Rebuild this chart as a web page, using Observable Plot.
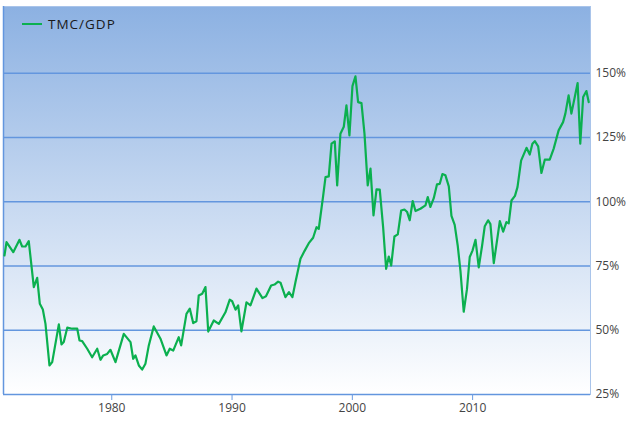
<!DOCTYPE html>
<html><head><meta charset="utf-8">
<script src="https://cdn.jsdelivr.net/npm/d3@7"></script>
<script src="https://cdn.jsdelivr.net/npm/@observablehq/plot@0.6"></script>
<style>
body{margin:0;background:#fff;font-family:"Open Sans",sans-serif}
#wrap{position:relative;width:640px;height:432px}
#wrap svg{position:absolute;left:0;top:0}
#legend{position:absolute;left:22px;top:15px;display:flex;align-items:center;font-size:13.5px;letter-spacing:1px;color:#1a1a1a;z-index:2;font-family:"Open Sans",sans-serif}
#legend .sw{display:inline-block;width:20px;height:2px;background:#0bb04f;margin-right:6px}
</style></head><body>
<div id="wrap"></div>
<script>
const seriesName = "TMC/GDP";
const years = [1971.08,1971.25,1971.81,1972.33,1972.55,1972.83,1973.10,1973.52,1973.80,1974.02,1974.27,1974.49,1974.82,1975.05,1975.60,1975.82,1976.01,1976.30,1976.71,1977.13,1977.32,1977.54,1977.96,1978.37,1978.79,1979.06,1979.29,1979.62,1979.89,1980.31,1981.00,1981.56,1981.78,1981.97,1982.25,1982.53,1982.80,1983.08,1983.49,1984.05,1984.55,1984.82,1985.11,1985.57,1985.77,1986.21,1986.49,1986.77,1987.04,1987.23,1987.52,1987.79,1988.02,1988.48,1988.90,1989.45,1989.81,1990.01,1990.29,1990.51,1990.78,1991.20,1991.53,1992.03,1992.53,1992.82,1993.25,1993.53,1993.83,1994.03,1994.44,1994.73,1995.02,1995.27,1995.69,1996.02,1996.38,1996.74,1997.02,1997.21,1997.58,1997.77,1998.04,1998.27,1998.54,1998.74,1999.01,1999.29,1999.51,1999.76,2000.01,2000.26,2000.48,2000.76,2001.01,2001.28,2001.51,2001.76,2002.01,2002.28,2002.56,2002.81,2003.03,2003.23,2003.50,2003.78,2004.06,2004.33,2004.56,2004.77,2005.02,2005.25,2005.66,2006.08,2006.27,2006.49,2006.77,2007.04,2007.27,2007.49,2007.74,2008.02,2008.24,2008.51,2008.76,2008.99,2009.26,2009.53,2009.76,2009.99,2010.24,2010.51,2010.79,2011.01,2011.29,2011.48,2011.76,2012.26,2012.54,2012.81,2013.00,2013.23,2013.52,2013.73,2014.03,2014.48,2014.75,2014.97,2015.17,2015.45,2015.72,2016.00,2016.41,2016.74,2017.15,2017.52,2017.71,2017.98,2018.21,2018.73,2018.95,2019.19,2019.46,2019.65];
const values = [79.1,84.3,80.4,85.2,82.6,82.6,84.7,66.8,70.4,60.3,58.1,52.5,36.3,37.6,52.3,44.5,45.4,51,50.6,50.6,46,45.8,42.8,39.5,42.8,38.5,40.2,40.8,42.4,37.6,48.6,45.4,38.9,40.2,36.3,34.7,37,44.1,51.5,46.7,40.2,42.8,42.1,47.3,44.1,56.4,58.4,52.8,53.5,63.5,64.2,66.8,49.5,53.8,52.5,57,61.9,61.3,58,59.7,49.6,60.9,59.7,66.2,62.5,63.2,67.4,67.8,68.9,68.5,62.9,64.8,62.9,68.7,77.8,80.8,83.9,86,90.1,89.5,102.5,109.6,109.9,122.6,123.5,106.4,126.5,129.2,137.5,125.8,145,148.8,138.8,138.4,126.5,106.4,112.9,94.7,104.8,104.7,90.1,73.9,78.7,75.2,86.5,87.3,96.6,97,96,92.8,100.3,96.4,97.3,98.6,101.8,98,101.4,106.8,107,110.8,110.3,106,94.5,91,83,73,57.2,66,78.5,81,85.2,74.5,83,90.5,92.8,91.3,76.1,92.5,88.4,92.1,91.6,100.5,102.3,105.7,116,121,118.4,122.6,123.6,121.6,111.2,116.4,116.4,120.7,127.8,131,134.3,141.4,134.3,146.2,122.6,140.8,143.1,138.8];
const yTicks = [25, 50, 75, 100, 125, 150];
const xTicks = [1980, 1990, 2000, 2010];

const data = years.map((t, i) => ({t, v: values[i]}));

const defsMark = () => {
  const ns = "http://www.w3.org/2000/svg";
  const defs = document.createElementNS(ns, "defs");
  defs.innerHTML = '<linearGradient id="bg" x1="0" y1="0" x2="0" y2="1"><stop offset="0" stop-color="#8cb1e2"/><stop offset="1" stop-color="#ffffff"/></linearGradient>';
  return defs;
};

const chart = Plot.plot({
  width: 640, height: 432,
  marginLeft: 3, marginRight: 50, marginTop: 6, marginBottom: 38,
  style: {fontFamily: "'Open Sans', sans-serif", fontSize: "12px", background: "transparent", overflow: "visible"},
  x: {domain: [1971, 2019.8], label: null},
  y: {domain: [25, 176], label: null},
  marks: [
    defsMark,
    Plot.frame({fill: "url(#bg)", stroke: "#a9c4ea"}),
    Plot.gridY(yTicks.filter(d => d > 25), {stroke: "#6396de", strokeOpacity: 1, strokeWidth: 1.5}),
    Plot.ruleY([25], {stroke: "#6396de", strokeWidth: 1.5}),
    Plot.ruleX([1971], {stroke: "#6396de", strokeWidth: 1.5}),
    Plot.axisX(xTicks, {tickFormat: d => String(d), tickSize: 6, stroke: "#6a9be0", fill: "#444", tickPadding: 3, fontSize: 12}),
    Plot.axisY(yTicks, {anchor: "right", tickFormat: d => d + "%", tickSize: 0, tickPadding: 5, fill: "#444", fontSize: 12}),
    Plot.lineY(data, {x: "t", y: "v", stroke: "#0bb04f", strokeWidth: 2.2})
  ]
});

const wrap = document.getElementById("wrap");
wrap.appendChild(chart);
const legend = document.createElement("div");
legend.id = "legend";
legend.innerHTML = '<span class="sw"></span>' + seriesName;
wrap.appendChild(legend);
</script>
</body></html>
